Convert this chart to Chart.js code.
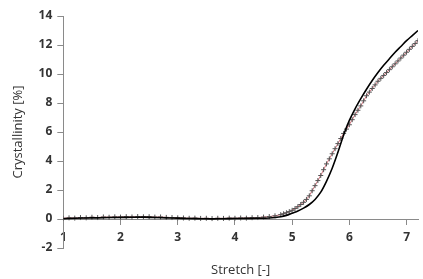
<!DOCTYPE html>
<html>
<head>
<meta charset="utf-8">
<script src="https://cdn.jsdelivr.net/npm/chart.js@4/dist/chart.umd.min.js"></script>
<style>
  body { margin: 0; background: #fff; }
  #wrap { width: 423px; height: 279px; }
</style>
</head>
<body>
<div id="wrap"><canvas id="myChart"></canvas></div>
<script>
// 延伸（黒線）
const lineStretch = [1.0, 1.2, 1.4, 1.6, 1.8, 2.0, 2.2, 2.4, 2.6, 2.8, 3.0, 3.2, 3.4, 3.6, 3.8, 4.0, 4.2, 4.4, 4.6, 4.7, 4.8, 4.9, 5.0, 5.1, 5.2, 5.3, 5.4, 5.5, 5.6, 5.7, 5.8, 5.9, 6.0, 6.1, 6.2, 6.3, 6.4, 6.5, 6.6, 6.7, 6.8, 6.9, 7.0, 7.1, 7.2];
const lineCryst = [0.02, 0.05, 0.07, 0.08, 0.1, 0.11, 0.12, 0.13, 0.1, 0.08, 0.06, 0.03, 0.02, 0.01, 0.02, 0.03, 0.04, 0.05, 0.07, 0.1, 0.15, 0.25, 0.4, 0.55, 0.75, 1.0, 1.35, 1.85, 2.6, 3.5, 4.6, 5.8, 6.8, 7.6, 8.3, 8.95, 9.55, 10.1, 10.6, 11.05, 11.5, 11.9, 12.3, 12.65, 13.0];

// 測定値（＋マーカー）
const markStretch = [1.0, 1.1, 1.2, 1.3, 1.4, 1.5, 1.6, 1.7, 1.8, 1.9, 2.0, 2.1, 2.2, 2.3, 2.4, 2.5, 2.6, 2.7, 2.8, 2.9, 3.0, 3.1, 3.2, 3.3, 3.4, 3.5, 3.6, 3.7, 3.8, 3.9, 4.0, 4.1, 4.2, 4.3, 4.4, 4.5, 4.6, 4.7, 4.8, 4.85, 4.9, 4.95, 5.0, 5.05, 5.1, 5.15, 5.2, 5.25, 5.3, 5.35, 5.4, 5.45, 5.5, 5.55, 5.6, 5.65, 5.7, 5.75, 5.8, 5.85, 5.9, 5.95, 6.0, 6.05, 6.1, 6.15, 6.2, 6.25, 6.3, 6.35, 6.4, 6.45, 6.5, 6.55, 6.6, 6.65, 6.7, 6.75, 6.8, 6.85, 6.9, 6.95, 7.0, 7.05, 7.1, 7.15, 7.2];
const markCryst = [0.05, 0.08, 0.06, 0.1, 0.08, 0.12, 0.1, 0.14, 0.12, 0.15, 0.13, 0.16, 0.14, 0.17, 0.15, 0.16, 0.13, 0.14, 0.11, 0.1, 0.08, 0.07, 0.05, 0.06, 0.04, 0.05, 0.03, 0.05, 0.04, 0.06, 0.05, 0.07, 0.06, 0.09, 0.1, 0.13, 0.17, 0.22, 0.3, 0.36, 0.43, 0.51, 0.6, 0.72, 0.85, 1.0, 1.15, 1.35, 1.6, 1.95, 2.3, 2.65, 3.0, 3.4, 3.8, 4.15, 4.5, 4.85, 5.2, 5.55, 5.9, 6.2, 6.5, 6.85, 7.2, 7.5, 7.8, 8.15, 8.5, 8.75, 9.0, 9.25, 9.5, 9.7, 9.9, 10.1, 10.3, 10.5, 10.7, 10.9, 11.1, 11.3, 11.5, 11.7, 11.9, 12.1, 12.3];

const xTicks = [1, 2, 3, 4, 5, 6, 7];
const yTicks = [-2, 0, 2, 4, 6, 8, 10, 12, 14];

const axisColor = '#8a8a8a';
const tickFont = { family: 'Open Sans', size: 12, weight: 'bold' };
const titleFont = { family: 'Open Sans', size: 13 };

const ctx = document.getElementById('myChart').getContext('2d');
new Chart(ctx, {
    type: 'scatter',
    data: {
        datasets: [{
            label: 'model',
            data: lineStretch.map((x, i) => ({ x: x, y: lineCryst[i] })),
            showLine: true,
            borderColor: '#000',
            borderWidth: 1.6,
            pointRadius: 0,
            cubicInterpolationMode: 'monotone',
            order: 0
        }, {
            label: 'measured',
            data: markStretch.map((x, i) => ({ x: x, y: markCryst[i] })),
            showLine: true,
            borderColor: '#d0707a',
            borderWidth: 1,
            pointStyle: 'cross',
            pointRadius: 2.5,
            pointBorderColor: '#555',
            pointBorderWidth: 1,
            order: 1
        }]
    },
    options: {
        responsive: true,
        maintainAspectRatio: false,
        animation: false,
        layout: { padding: { top: 16, right: 0, bottom: 31, left: 6 } },
        plugins: { legend: { display: false }, tooltip: { enabled: false } },
        scales: {
            x: {
                type: 'linear',
                position: { y: 0 },
                min: 1,
                max: 7.2,
                afterBuildTicks: (axis) => { axis.ticks = xTicks.map(v => ({ value: v })); },
                ticks: { color: '#333', font: tickFont, padding: 6, maxRotation: 0 },
                grid: { drawOnChartArea: false, color: axisColor, tickLength: 5 },
                border: { color: axisColor, width: 1 },
                title: { display: true, text: 'Stretch [-]', color: '#333', font: titleFont, padding: { top: 12, bottom: 0 } }
            },
            y: {
                type: 'linear',
                min: -2,
                max: 14,
                afterBuildTicks: (axis) => { axis.ticks = yTicks.map(v => ({ value: v })); },
                ticks: { color: '#333', font: tickFont, padding: 5 },
                grid: { drawOnChartArea: false, color: axisColor, tickLength: 6 },
                border: { color: axisColor, width: 1 },
                title: { display: true, text: 'Crystallinity [%]', color: '#333', font: titleFont, padding: { top: 4, bottom: 8 } }
            }
        }
    }
});
</script>
</body>
</html>
